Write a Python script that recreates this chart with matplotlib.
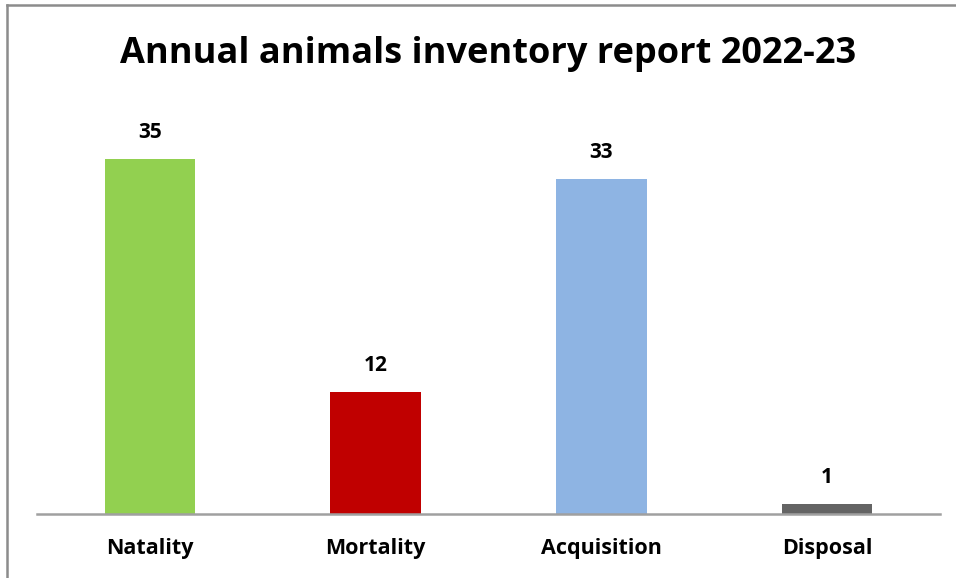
import matplotlib.pyplot as plt
from matplotlib.lines import Line2D

categories = ["Natality", "Mortality", "Acquisition", "Disposal"]
counts = [35, 12, 33, 1]
colors = ["#92D050", "#C00000", "#8EB4E3", "#646464"]

plt.rcParams['font.family'] = ['Open Sans', 'DejaVu Sans']

fig = plt.figure(figsize=(9.56, 5.78), dpi=100)
ax = fig.add_axes([37 / 956, 64 / 578, 903 / 956, 406 / 578])

x = range(len(categories))
bars = ax.bar(x, counts, width=0.40, color=colors, zorder=2)
ax.set_xlim(-0.5, len(categories) - 0.5)
ax.set_ylim(0, 40)

for b, v in zip(bars, counts):
    ax.annotate(str(v), (b.get_x() + b.get_width() / 2, b.get_height()),
                xytext=(0, 19), textcoords='offset points',
                ha='center', va='center', fontsize=15, fontweight='bold')

ax.set_xticks(list(x))
ax.set_xticklabels(categories, fontsize=15.5, fontweight='bold')
ax.tick_params(axis='x', length=0, pad=17)
ax.set_yticks([])
for s in ['top', 'right', 'left']:
    ax.spines[s].set_visible(False)
ax.spines['bottom'].set_color('#A0A0A0')
ax.spines['bottom'].set_linewidth(1.8)

fig.text(488 / 956, 1 - 54 / 578, "Annual animals inventory report 2022-23",
         ha='center', va='center', fontsize=26, fontweight='bold')

# chart frame (only top and left edges visible)
fig.add_artist(Line2D([6.5 / 956, 6.5 / 956], [0, 1 - 4.5 / 578],
                      transform=fig.transFigure, color='#8C8C8C', lw=1.8))
fig.add_artist(Line2D([6.5 / 956, 1], [1 - 4.5 / 578, 1 - 4.5 / 578],
                      transform=fig.transFigure, color='#8C8C8C', lw=1.8))

fig.savefig("out.png", dpi=100)
